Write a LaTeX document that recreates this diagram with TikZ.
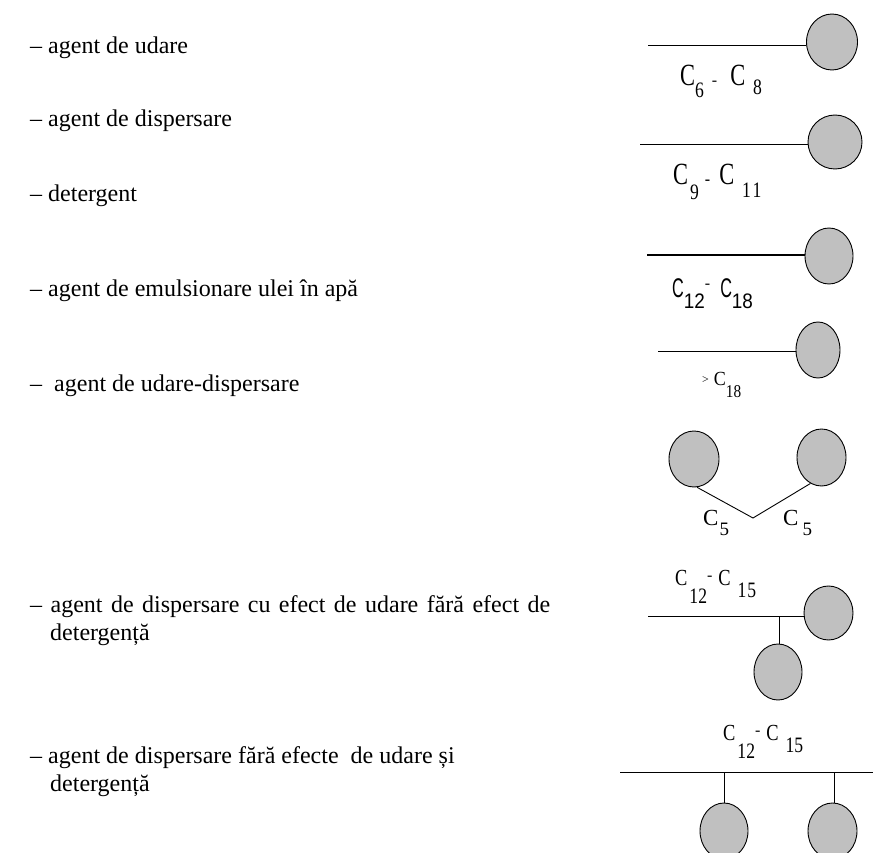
\documentclass[tikz,border=0pt]{standalone}
\usepackage{fontspec}
\setmainfont{Liberation Serif}
\newfontfamily\lsans{Liberation Sans}
\usetikzlibrary{shapes.geometric}
\definecolor{headgray}{RGB}{192,192,192}
% label pieces
\newcommand\bigC{\scalebox{0.8}[1.1]{\fontsize{28}{28}\selectfont C}}
\newcommand\midC{\scalebox{0.8}[1]{\fontsize{23}{23}\selectfont C}}
\newcommand\dig[2]{\raisebox{-#1pt}{\scalebox{0.8}[1]{\fontsize{22}{22}\selectfont #2}}}
\newcommand\hy{{\fontsize{16}{16}\selectfont -}}
\newcommand\sC{\scalebox{0.6}[1]{\lsans\fontsize{27}{27}\selectfont C}}
\newcommand\sdig[2]{\raisebox{-#1pt}{\scalebox{0.9}[1]{\lsans\fontsize{21}{21}\selectfont #2}}}
\begin{document}
\begin{tikzpicture}[x=1pt,y=-1pt,
  head/.style={ellipse,draw=black,fill=headgray,line width=0.9pt,inner sep=0pt,minimum width=50pt,minimum height=56pt},
  tail/.style={draw=black,line width=0.9pt},
  item/.style={anchor=base west,inner sep=0pt,font=\fontsize{24}{28}\selectfont},
  lab/.style={anchor=base west,inner sep=0pt}]
\useasboundingbox (0,0) rectangle (873,853);
\clip (0,0) rectangle (873,853);
% texts
\node[item] (t1) at (30,54) {– agent de udare};
\node[item] (t2) at (30,127) {– agent de dispersare};
\node[item] (t3) at (30,202) {– detergent};
\node[item] (t4) at (30,296) {– agent de emulsionare ulei în apă};
\node[item] (t5) at (30,391) {–\ \ agent de udare-dispersare};
\node[item] (t6a) at (30,612) {\makebox[520pt][s]{– agent de dispersare cu efect de udare fără efect de}};
\node[item] (t6b) at (50,640) {detergență};
\node[item] (t7a) at (30,763) {– agent de dispersare fără efecte\ \ de udare și};
\node[item] (t7b) at (50,791) {detergență};
% row 1
\node[head,minimum width=51pt] (h1) at (832,42) {};
\coordinate (e1) at (648,45);
\draw[tail] (e1) -- (e1 -| h1.west);
\node[lab] (l1) at (680,86) {\bigC\dig{12}{6}\hspace{8pt}\hy\hspace{13pt}\bigC\hspace{8pt}\dig{9}{8}};
% row 2
\node[head,minimum width=54pt,minimum height=54pt] (h2) at (835,142) {};
\coordinate (e2) at (640,144);
\draw[tail] (e2) -- (e2 -| h2.west);
\node[lab] (l2) at (673,185) {\bigC\hspace{2pt}\dig{15}{9}\hspace{6pt}{\bfseries\hy}\hspace{9pt}\bigC\hspace{8pt}\dig{13}{1\hspace{2pt}1}};
% row 3
\node[head,minimum width=48pt] (h3) at (829,256) {};
\coordinate (e3) at (647,255);
\draw[tail,line width=1.8pt] (e3) -- (e3 -| h3.west);
\node[lab] (l3) at (672,297) {\sC\sdig{11}{12}\raisebox{9pt}{\hy}\hspace{10pt}\sC\sdig{11}{18}};
% row 4
\node[head,minimum width=44pt] (h4) at (818,350) {};
\coordinate (e4) at (658,351);
\draw[tail] (e4) -- (e4 -| h4.west);
\node[lab] (l4) at (702,385) {\raisebox{2pt}{\fontsize{12}{12}\selectfont >}\hspace{5pt}\scalebox{0.9}[1]{\fontsize{20}{20}\selectfont C}\raisebox{-12pt}{\scalebox{0.85}[1]{\fontsize{18}{18}\selectfont 18}}};
% row 5
\node[head] (h5a) at (694,459) {};
\node[head,minimum width=49pt,minimum height=57pt] (h5b) at (821.5,457.5) {};
\coordinate (v5) at (753,518);
\draw[tail] (h5a.-84) -- (v5) -- (h5b.-113);
\node[lab] (l5a) at (703,525) {{\fontsize{23}{23}\selectfont C}\hspace{1pt}\raisebox{-10pt}{\fontsize{19}{19}\selectfont 5}};
\node[lab] (l5b) at (783,525) {{\fontsize{23}{23}\selectfont C}\hspace{4pt}\raisebox{-10pt}{\fontsize{19}{19}\selectfont 5}};
% row 6
\node[lab] (l6) at (675,585) {\midC\hspace{2pt}\dig{18}{12}\raisebox{5pt}{\hy}\hspace{6pt}\midC\hspace{7pt}\dig{12}{1\hspace{1pt}5}};
\node[head,minimum width=49pt,minimum height=54pt] (h6a) at (828.5,613) {};
\coordinate (e6) at (648,616);
\coordinate (j6) at (779,616);
\draw[tail] (e6) -- (e6 -| h6a.west);
\node[head,minimum width=48pt] (h6b) at (778,672) {};
\draw[tail] (j6) -- (j6 |- h6b.north);
% row 7
\node[lab] (l7) at (723,740) {\midC\hspace{2pt}\dig{18}{12}\raisebox{5pt}{\hy}\hspace{6pt}\midC\hspace{7pt}\dig{12}{15}};
\coordinate (e7a) at (620,772);
\coordinate (e7b) at (873,772);
\coordinate (j7a) at (724,772);
\coordinate (j7b) at (834,772);
\draw[tail] (e7a) -- (e7b);
\node[head,minimum width=48pt] (h7a) at (724,831) {};
\node[head,minimum width=49pt] (h7b) at (832.5,831) {};
\draw[tail] (j7a) -- (j7a |- h7a.north);
\draw[tail] (j7b) -- (j7b |- h7b.north);
\end{tikzpicture}
\end{document}
